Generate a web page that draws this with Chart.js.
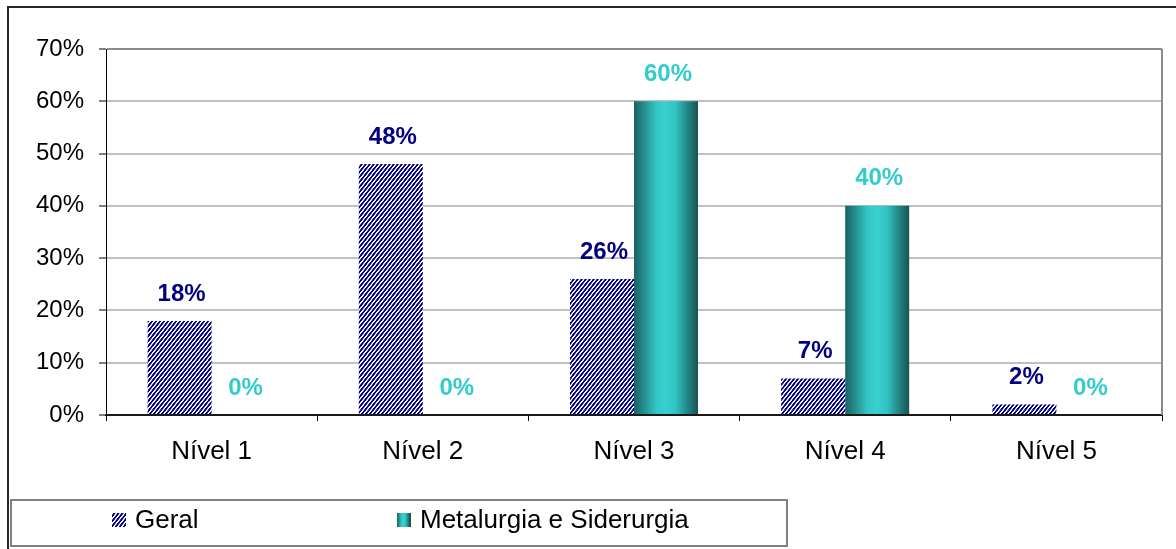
<!DOCTYPE html>
<html lang="pt">
<head>
<meta charset="utf-8">
<title>Distribuição por nível</title>
<script src="https://cdn.jsdelivr.net/npm/chart.js@4/dist/chart.umd.min.js"></script>
<style>
  html, body { margin: 0; padding: 0; background: #ffffff; }
  #wrap { width: 1176px; height: 549px; position: relative; }
</style>
</head>
<body>
<div id="wrap"><canvas id="chart"></canvas></div>
<script>
// Categories and series (percent values)
const categories = ['Nível 1', 'Nível 2', 'Nível 3', 'Nível 4', 'Nível 5'];
const seriesNames = ['Geral', 'Metalurgia e Siderurgia'];
const geral = [18, 48, 26, 7, 2];
const metalurgia = [0, 0, 60, 40, 0];
const yTicks = [0, 10, 20, 30, 40, 50, 60, 70];

const NAVY = '#000080';
const TEAL = '#33CCCC';
const FONT = '"Liberation Sans", Arial, sans-serif';
const CAT_PCT = 0.606;
const BAR_PCT = 1.0;

// Navy "/" hatch tile, supersampled for smooth edges
function makeHatch() {
  const w = 4, h = 5, ss = 4, dutyDark = 0.56;
  const c = document.createElement('canvas');
  c.width = w; c.height = h;
  const g = c.getContext('2d');
  const img = g.createImageData(w, h);
  for (let y = 0; y < h; y++) {
    for (let x = 0; x < w; x++) {
      let dark = 0;
      for (let sy = 0; sy < ss; sy++) for (let sx = 0; sx < ss; sx++) {
        const px = x + (sx + 0.5) / ss, py = y + (sy + 0.5) / ss;
        let ph = px / w + py / h; ph -= Math.floor(ph);
        if (ph < dutyDark) dark++;
      }
      let t = dark / (ss * ss);
      t = Math.min(1, Math.max(0, (t - 0.5) * 1.6 + 0.5));
      const k = (y * w + x) * 4;
      img.data[k] = Math.round(255 * (1 - t));
      img.data[k + 1] = Math.round(255 * (1 - t));
      img.data[k + 2] = Math.round(255 * (1 - t) + 128 * t);
      img.data[k + 3] = 255;
    }
  }
  g.putImageData(img, 0, 0);
  return c;
}
const hatchTile = makeHatch();

function tealGradient(ctx, left, right) {
  const g = ctx.createLinearGradient(left, 0, right, 0);
  g.addColorStop(0, '#1A6262');
  g.addColorStop(0.15, '#258C8C');
  g.addColorStop(0.35, '#35C6C6');
  g.addColorStop(0.5, '#39D0D0');
  g.addColorStop(0.65, '#33C3C3');
  g.addColorStop(0.83, '#228888');
  g.addColorStop(1, '#195252');
  return g;
}

// Cylinder-like shading across each Metalurgia bar
function metalFill(c) {
  const chart = c.chart, xs = chart.scales && chart.scales.x;
  if (!xs || !chart.chartArea || c.dataIndex === undefined) return TEAL;
  const center = xs.getPixelForValue(c.dataIndex);
  const chunk = (xs.width / categories.length) * CAT_PCT / 2;
  const left = center + chunk * (1 - BAR_PCT) / 2;
  return tealGradient(chart.ctx, left, left + chunk * BAR_PCT);
}

const framePlugin = {
  id: 'frame',
  beforeDraw(chart) {
    const ctx = chart.ctx;
    ctx.save();
    ctx.fillStyle = '#ffffff';
    ctx.fillRect(0, 0, chart.width, chart.height);
    ctx.restore();
  },
  afterDraw(chart) {
    const ctx = chart.ctx, a = chart.chartArea;
    ctx.save();
    // outer frame (top and left edges)
    ctx.strokeStyle = '#262626';
    ctx.lineWidth = 2;
    ctx.beginPath();
    ctx.moveTo(8, chart.height);
    ctx.lineTo(8, 7);
    ctx.lineTo(chart.width, 7);
    ctx.stroke();
    // plot area right edge
    ctx.strokeStyle = '#8C8C8C';
    ctx.beginPath();
    ctx.moveTo(Math.round(a.right), a.top);
    ctx.lineTo(Math.round(a.right), a.bottom);
    ctx.stroke();
    // legend box
    ctx.strokeStyle = '#808080';
    ctx.strokeRect(11, 500, 776, 46);
    const itemX = [112, 397];
    const midY = 520;
    ctx.font = '26px ' + FONT;
    ctx.textBaseline = 'middle';
    ctx.textAlign = 'left';
    chart.data.datasets.forEach((ds, i) => {
      const x = itemX[i];
      if (i === 0) {
        ctx.fillStyle = ctx.createPattern(hatchTile, 'repeat');
      } else {
        ctx.fillStyle = tealGradient(ctx, x, x + 13);
      }
      ctx.fillRect(x, midY - 7, 14, 14);
      ctx.fillStyle = '#000000';
      ctx.fillText(ds.label, x + 23, midY + 1);
    });
    ctx.restore();
  }
};

const valueLabels = {
  id: 'valueLabels',
  afterDatasetsDraw(chart) {
    const ctx = chart.ctx;
    ctx.save();
    ctx.font = 'bold 24px ' + FONT;
    ctx.textAlign = 'center';
    ctx.textBaseline = 'middle';
    chart.data.datasets.forEach((ds, di) => {
      const meta = chart.getDatasetMeta(di);
      ctx.fillStyle = di === 0 ? NAVY : TEAL;
      meta.data.forEach((bar, i) => {
        ctx.fillText(ds.data[i] + '%', bar.x + 2, bar.y - 27);
      });
    });
    ctx.restore();
  }
};

const hatch = document.getElementById('chart').getContext('2d').createPattern(hatchTile, 'repeat');

new Chart(document.getElementById('chart'), {
  type: 'bar',
  data: {
    labels: categories,
    datasets: [
      { label: seriesNames[0], data: geral, backgroundColor: hatch, borderWidth: 0,
        categoryPercentage: CAT_PCT, barPercentage: BAR_PCT },
      { label: seriesNames[1], data: metalurgia, backgroundColor: metalFill, borderWidth: 0,
        categoryPercentage: CAT_PCT, barPercentage: BAR_PCT }
    ]
  },
  options: {
    responsive: true,
    maintainAspectRatio: false,
    animation: false,
    layout: { padding: { left: 0, right: 14, top: 49, bottom: 0 } },
    plugins: { legend: { display: false }, tooltip: { enabled: false } },
    scales: {
      x: {
        afterFit(s) { s.height = 134; },
        grid: { offset: true, drawOnChartArea: false, drawTicks: true, tickLength: 6,
                tickColor: '#000000', tickWidth: 1 },
        border: { color: '#1A1A1A', width: 2 },
        ticks: { color: '#000000', font: { family: FONT, size: 26 }, padding: 15, maxRotation: 0 }
      },
      y: {
        min: 0, max: 70,
        afterFit(s) { s.width = 106; },
        afterBuildTicks(s) { s.ticks = yTicks.map(v => ({ value: v })); },
        grid: {
          color: c => (c.tick && c.tick.value === 70 ? '#8C8C8C' : '#C0C0C0'),
          lineWidth: 2, tickLength: 7, tickColor: '#000000', tickWidth: 1
        },
        border: { color: '#000000', width: 1 },
        ticks: { color: '#000000', font: { family: FONT, size: 24 }, padding: 15,
                 callback: v => v + '%' }
      }
    }
  },
  plugins: [framePlugin, valueLabels]
});
</script>
</body>
</html>
